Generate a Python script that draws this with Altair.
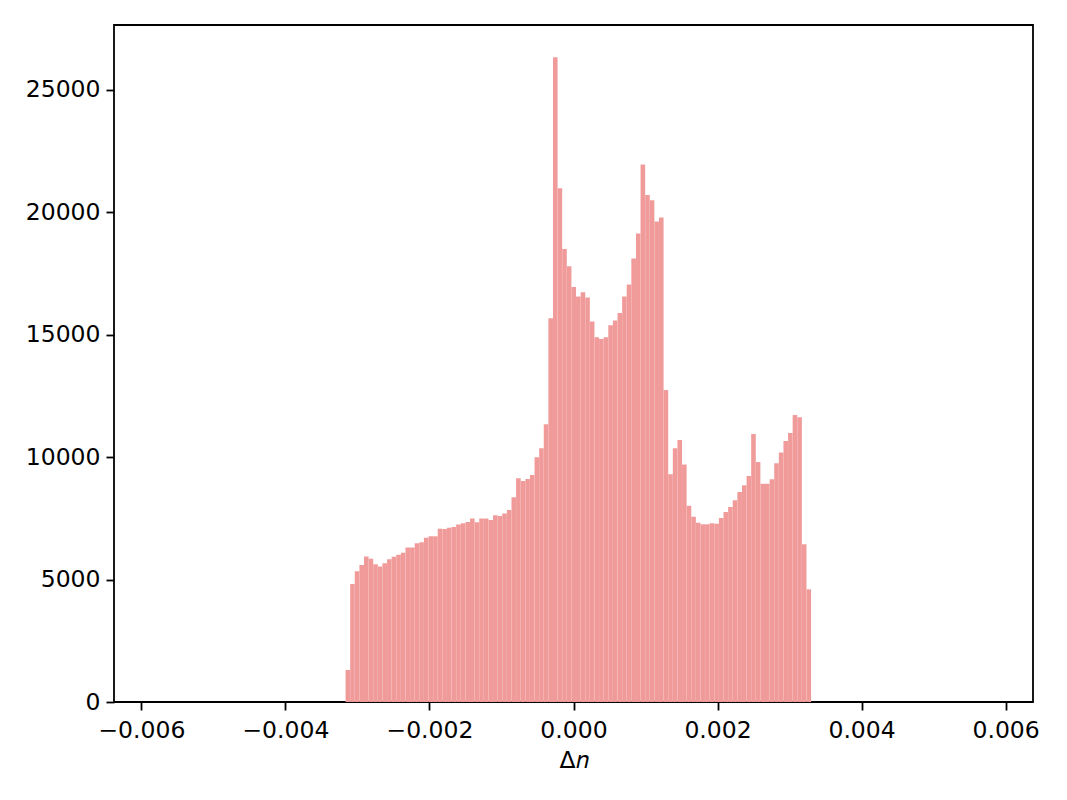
import altair as alt
import pandas as pd

# histogram of Δn: 101 equal-width bins
first_edge = -0.003165
bin_width = 0.000064
counts = [
    1307, 4820, 5345, 5596, 5945, 5850, 5630, 5535, 5665, 5835,
    5937, 6018, 6100, 6310, 6310, 6481, 6522, 6712, 6767, 6767,
    7080, 7067, 7121, 7149, 7255, 7305, 7350, 7490, 7340, 7495,
    7495, 7435, 7630, 7598, 7700, 7843, 8361, 9137, 9028, 9110,
    9273, 9995, 10363, 11343, 15673, 26335, 20984, 18505, 17798, 16950,
    16558, 16735, 16517, 15537, 14897, 14829, 14897, 15387, 15578, 15891,
    16558, 17048, 18110, 19132, 21950, 20711, 20494, 19622, 19785, 12745,
    9300, 10363, 10703, 9700, 8020, 7571, 7326, 7258, 7258, 7299,
    7285, 7516, 7762, 7966, 8238, 8579, 8851, 9232, 10948, 9804,
    8919, 8919, 9096, 9750, 10186, 10662, 10989, 11724, 11629, 6441,
    4603,
]
x_ticks = [-0.006, -0.004, -0.002, 0.0, 0.002, 0.004, 0.006]
y_ticks = [0, 5000, 10000, 15000, 20000, 25000]

df = pd.DataFrame({
    "lo": [first_edge + i * bin_width for i in range(len(counts))],
    "count": counts,
})
df["hi"] = df["lo"] + bin_width

FONT = "DejaVu Sans"

chart = alt.Chart(df).mark_rect(
    color="#F09A9A", stroke="#ffffff", strokeOpacity=0.1, strokeWidth=0.4
).encode(
    x=alt.X("lo:Q",
            scale=alt.Scale(domain=[-0.00638, 0.00638], nice=False, zero=False),
            axis=alt.Axis(values=x_ticks, format=".3f", title="Δ𝑛",
                          titleBaseline="alphabetic", titleY=65,
                          labelPadding=8, labelFlush=False)),
    x2="hi:Q",
    y=alt.Y("count:Q",
            scale=alt.Scale(domain=[0, 27652], nice=False),
            axis=alt.Axis(values=y_ticks, format="d", title=None,
                          labelPadding=6, labelFlush=False)),
    y2=alt.datum(0),
).properties(
    width=919,
    height=677,
    autosize=alt.AutoSizeParams(type="none"),
    padding={"left": 106, "top": 17, "right": 26, "bottom": 90},
).configure_view(
    stroke="#000000", strokeWidth=1.8
).configure_axis(
    domain=False, grid=False,
    tickColor="#000000", tickSize=8, tickWidth=1.8,
    labelFont=FONT, labelFontSize=23.5, labelColor="#000000",
    titleFont=FONT, titleFontSize=23.5, titleColor="#000000",
    titleFontWeight="normal",
)

chart.save("out.html", embed_options={"renderer": "svg", "actions": False})
